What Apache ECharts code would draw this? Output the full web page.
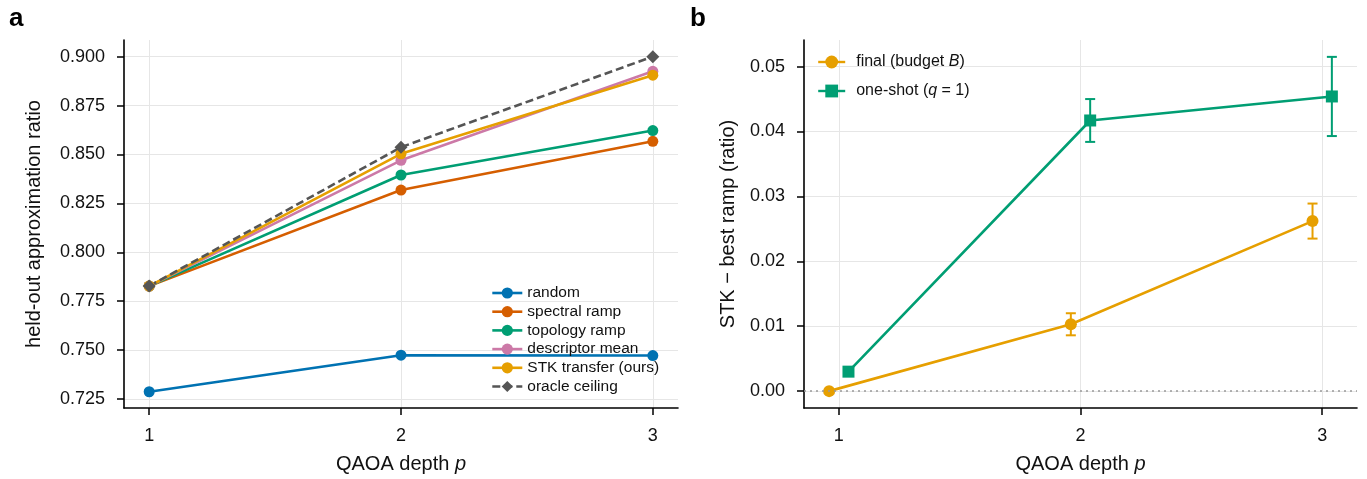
<!DOCTYPE html>
<html><head><meta charset="utf-8">
<script src="https://cdn.jsdelivr.net/npm/echarts@6/dist/echarts.min.js"></script>
<style>html,body{margin:0;padding:0;background:#fff}#c{width:1367px;height:479px}</style>
</head><body><div id="c"></div>
<script>
// ---- data ----
const depths = [1, 2, 3];
const xTicks = [1, 2, 3];
const randomVals = [0.7287, 0.7474, 0.7472];
const spectralVals = [0.7827, 0.8318, 0.8567];
const topologyVals = [0.7827, 0.8395, 0.8622];
const descriptorVals = [0.7827, 0.8470, 0.8925];
const stkVals = [0.7827, 0.8503, 0.8905];
const oracleVals = [0.7827, 0.8537, 0.9000];
const leftYTicks = [0.725, 0.75, 0.775, 0.8, 0.825, 0.85, 0.875, 0.9];

const finalMean = [0.0000, 0.0103, 0.0262];
const finalErr = [0.0001, 0.0017, 0.0027];
const oneShotMean = [0.0030, 0.0417, 0.0454];
const oneShotErr = [0.0006, 0.0033, 0.0061];
const rightYTicks = [0, 0.01, 0.02, 0.03, 0.04, 0.05];
const DODGE = 0.04;

const FONT = '"Liberation Sans", Arial, "DejaVu Sans", sans-serif';
const TXT = '#111';

function pts(xs, ys) { return xs.map((x, i) => [x, ys[i]]); }
function errData(xs, m, e) { return xs.map((x, i) => [x, m[i] - e[i], m[i] + e[i]]); }
function errRender(params, api) {
  const x = api.value(0), lo = api.value(1), hi = api.value(2);
  const top = api.coord([x, hi]), bot = api.coord([x, lo]);
  const cap = 5;
  const style = { stroke: api.visual('color'), lineWidth: 2, fill: null };
  return { type: 'group', children: [
    { type: 'line', shape: { x1: top[0], y1: top[1], x2: bot[0], y2: bot[1] }, style },
    { type: 'line', shape: { x1: top[0] - cap, y1: top[1], x2: top[0] + cap, y2: top[1] }, style },
    { type: 'line', shape: { x1: bot[0] - cap, y1: bot[1], x2: bot[0] + cap, y2: bot[1] }, style }
  ]};
}

const axisCommon = {
  axisLine: { show: true, onZero: false, lineStyle: { color: '#000', width: 1.6 } },
  axisTick: { show: true, inside: false, length: 7, lineStyle: { color: '#000', width: 1.5 } },
  splitLine: { show: true, lineStyle: { color: '#e6e6e6', width: 1 } },
  nameTextStyle: { fontFamily: FONT, fontSize: 20, color: TXT,
    rich: { n: { fontFamily: FONT, fontSize: 20, color: TXT }, i: { fontFamily: FONT, fontSize: 20, color: TXT, fontStyle: 'italic' } } }
};
function xAxisDef(gi, min, max) {
  return Object.assign({}, axisCommon, {
    type: 'value', gridIndex: gi, min, max,
    axisTick: Object.assign({}, axisCommon.axisTick, { customValues: xTicks }),
    axisLabel: { customValues: xTicks, margin: 19, fontFamily: FONT, fontSize: 18, color: TXT },
    name: '{n|QAOA depth }{i|p}', nameLocation: 'middle', nameGap: 46
  });
}
function yAxisDef(gi, min, max, ticks, dec, name, gap) {
  return Object.assign({}, axisCommon, {
    type: 'value', gridIndex: gi, min, max,
    axisTick: Object.assign({}, axisCommon.axisTick, { customValues: ticks }),
    axisLabel: { customValues: ticks, margin: 19, fontFamily: FONT, fontSize: 18, color: TXT,
      formatter: v => v.toFixed(dec) },
    name, nameLocation: 'middle', nameGap: gap
  });
}
function lineSeries(name, ys, color, symbol, size, dashed) {
  return { type: 'line', name, xAxisIndex: 0, yAxisIndex: 0, data: pts(depths, ys),
    symbol, symbolSize: size, color,
    lineStyle: { width: 2.6, color, type: dashed ? [8, 4] : 'solid' },
    itemStyle: { color }, emphasis: { disabled: true }, animation: false };
}

const option = {
  animation: false,
  textStyle: { fontFamily: FONT },
  graphic: [
    { type: 'text', left: 9, top: 6, style: { text: 'a', font: 'bold 26px ' + FONT, fill: '#000' } },
    { type: 'text', left: 690, top: 6, style: { text: 'b', font: 'bold 26px ' + FONT, fill: '#000' } }
  ],
  grid: [
    { left: 124, right: 689, top: 40, bottom: 70 },
    { left: 804, right: 10, top: 40, bottom: 70 }
  ],
  xAxis: [ xAxisDef(0, 0.9, 3.1), xAxisDef(1, 0.856, 3.144) ],
  yAxis: [
    yAxisDef(0, 0.7204, 0.9085, leftYTicks, 3, 'held-out approximation ratio', 80),
    yAxisDef(1, -0.0026, 0.0541, rightYTicks, 2, 'STK \u2212 best ramp (ratio)', 66)
  ],
  legend: [
    { orient: 'vertical', left: 491, top: 285, padding: 0, itemWidth: 30, itemHeight: 14, itemGap: 2.7,
      lineStyle: { width: 2.6 },
      data: ['random', 'spectral ramp', 'topology ramp', 'descriptor mean', 'STK transfer (ours)', 'oracle ceiling'],
      textStyle: { fontFamily: FONT, fontSize: 15.5, color: TXT } },
    { orient: 'vertical', left: 817, top: 54, padding: 0, itemWidth: 27, itemHeight: 16, itemGap: 13,
      lineStyle: { width: 2.4 },
      data: ['final', 'oneshot'],
      formatter: n => n === 'final' ? '{s|}{n|final (budget }{i|B}{n|)}' : '{s|}{n|one-shot (}{i|q}{n| = 1)}',
      textStyle: { fontFamily: FONT, fontSize: 16, color: TXT,
        rich: { s: { width: 6 }, n: { fontFamily: FONT, fontSize: 16, color: TXT }, i: { fontFamily: FONT, fontSize: 16, color: TXT, fontStyle: 'italic' } } } }
  ],
  series: [
    lineSeries('random', randomVals, '#0072B2', 'circle', 11, false),
    lineSeries('spectral ramp', spectralVals, '#D55E00', 'circle', 11, false),
    lineSeries('topology ramp', topologyVals, '#009E73', 'circle', 11, false),
    lineSeries('descriptor mean', descriptorVals, '#CC79A7', 'circle', 11, false),
    lineSeries('STK transfer (ours)', stkVals, '#E69F00', 'circle', 11, false),
    lineSeries('oracle ceiling', oracleVals, '#555555', 'diamond', 13, true),
    { type: 'custom', name: 'finalErr', xAxisIndex: 1, yAxisIndex: 1, renderItem: errRender,
      data: errData(depths.map(p => p - DODGE), finalMean, finalErr), itemStyle: { color: '#E69F00' }, z: 3 },
    { type: 'line', name: 'final', xAxisIndex: 1, yAxisIndex: 1,
      data: pts(depths.map(p => p - DODGE), finalMean), symbol: 'circle', symbolSize: 12,
      color: '#E69F00', lineStyle: { width: 2.6, color: '#E69F00' }, itemStyle: { color: '#E69F00' },
      emphasis: { disabled: true }, z: 3,
      markLine: { silent: true, symbol: 'none', label: { show: false },
        lineStyle: { color: '#999', width: 1.5, type: [2, 4] }, data: [{ yAxis: 0 }] } },
    { type: 'custom', name: 'oneshotErr', xAxisIndex: 1, yAxisIndex: 1, renderItem: errRender,
      data: errData(depths.map(p => p + DODGE), oneShotMean, oneShotErr), itemStyle: { color: '#009E73' }, z: 4 },
    { type: 'line', name: 'oneshot', xAxisIndex: 1, yAxisIndex: 1,
      data: pts(depths.map(p => p + DODGE), oneShotMean), symbol: 'rect', symbolSize: 12,
      color: '#009E73', lineStyle: { width: 2.6, color: '#009E73' }, itemStyle: { color: '#009E73' },
      emphasis: { disabled: true }, z: 4 }
  ]
};
const chart = echarts.init(document.getElementById('c'), null, { renderer: 'canvas' });
chart.setOption(option);
</script>
</body></html>
